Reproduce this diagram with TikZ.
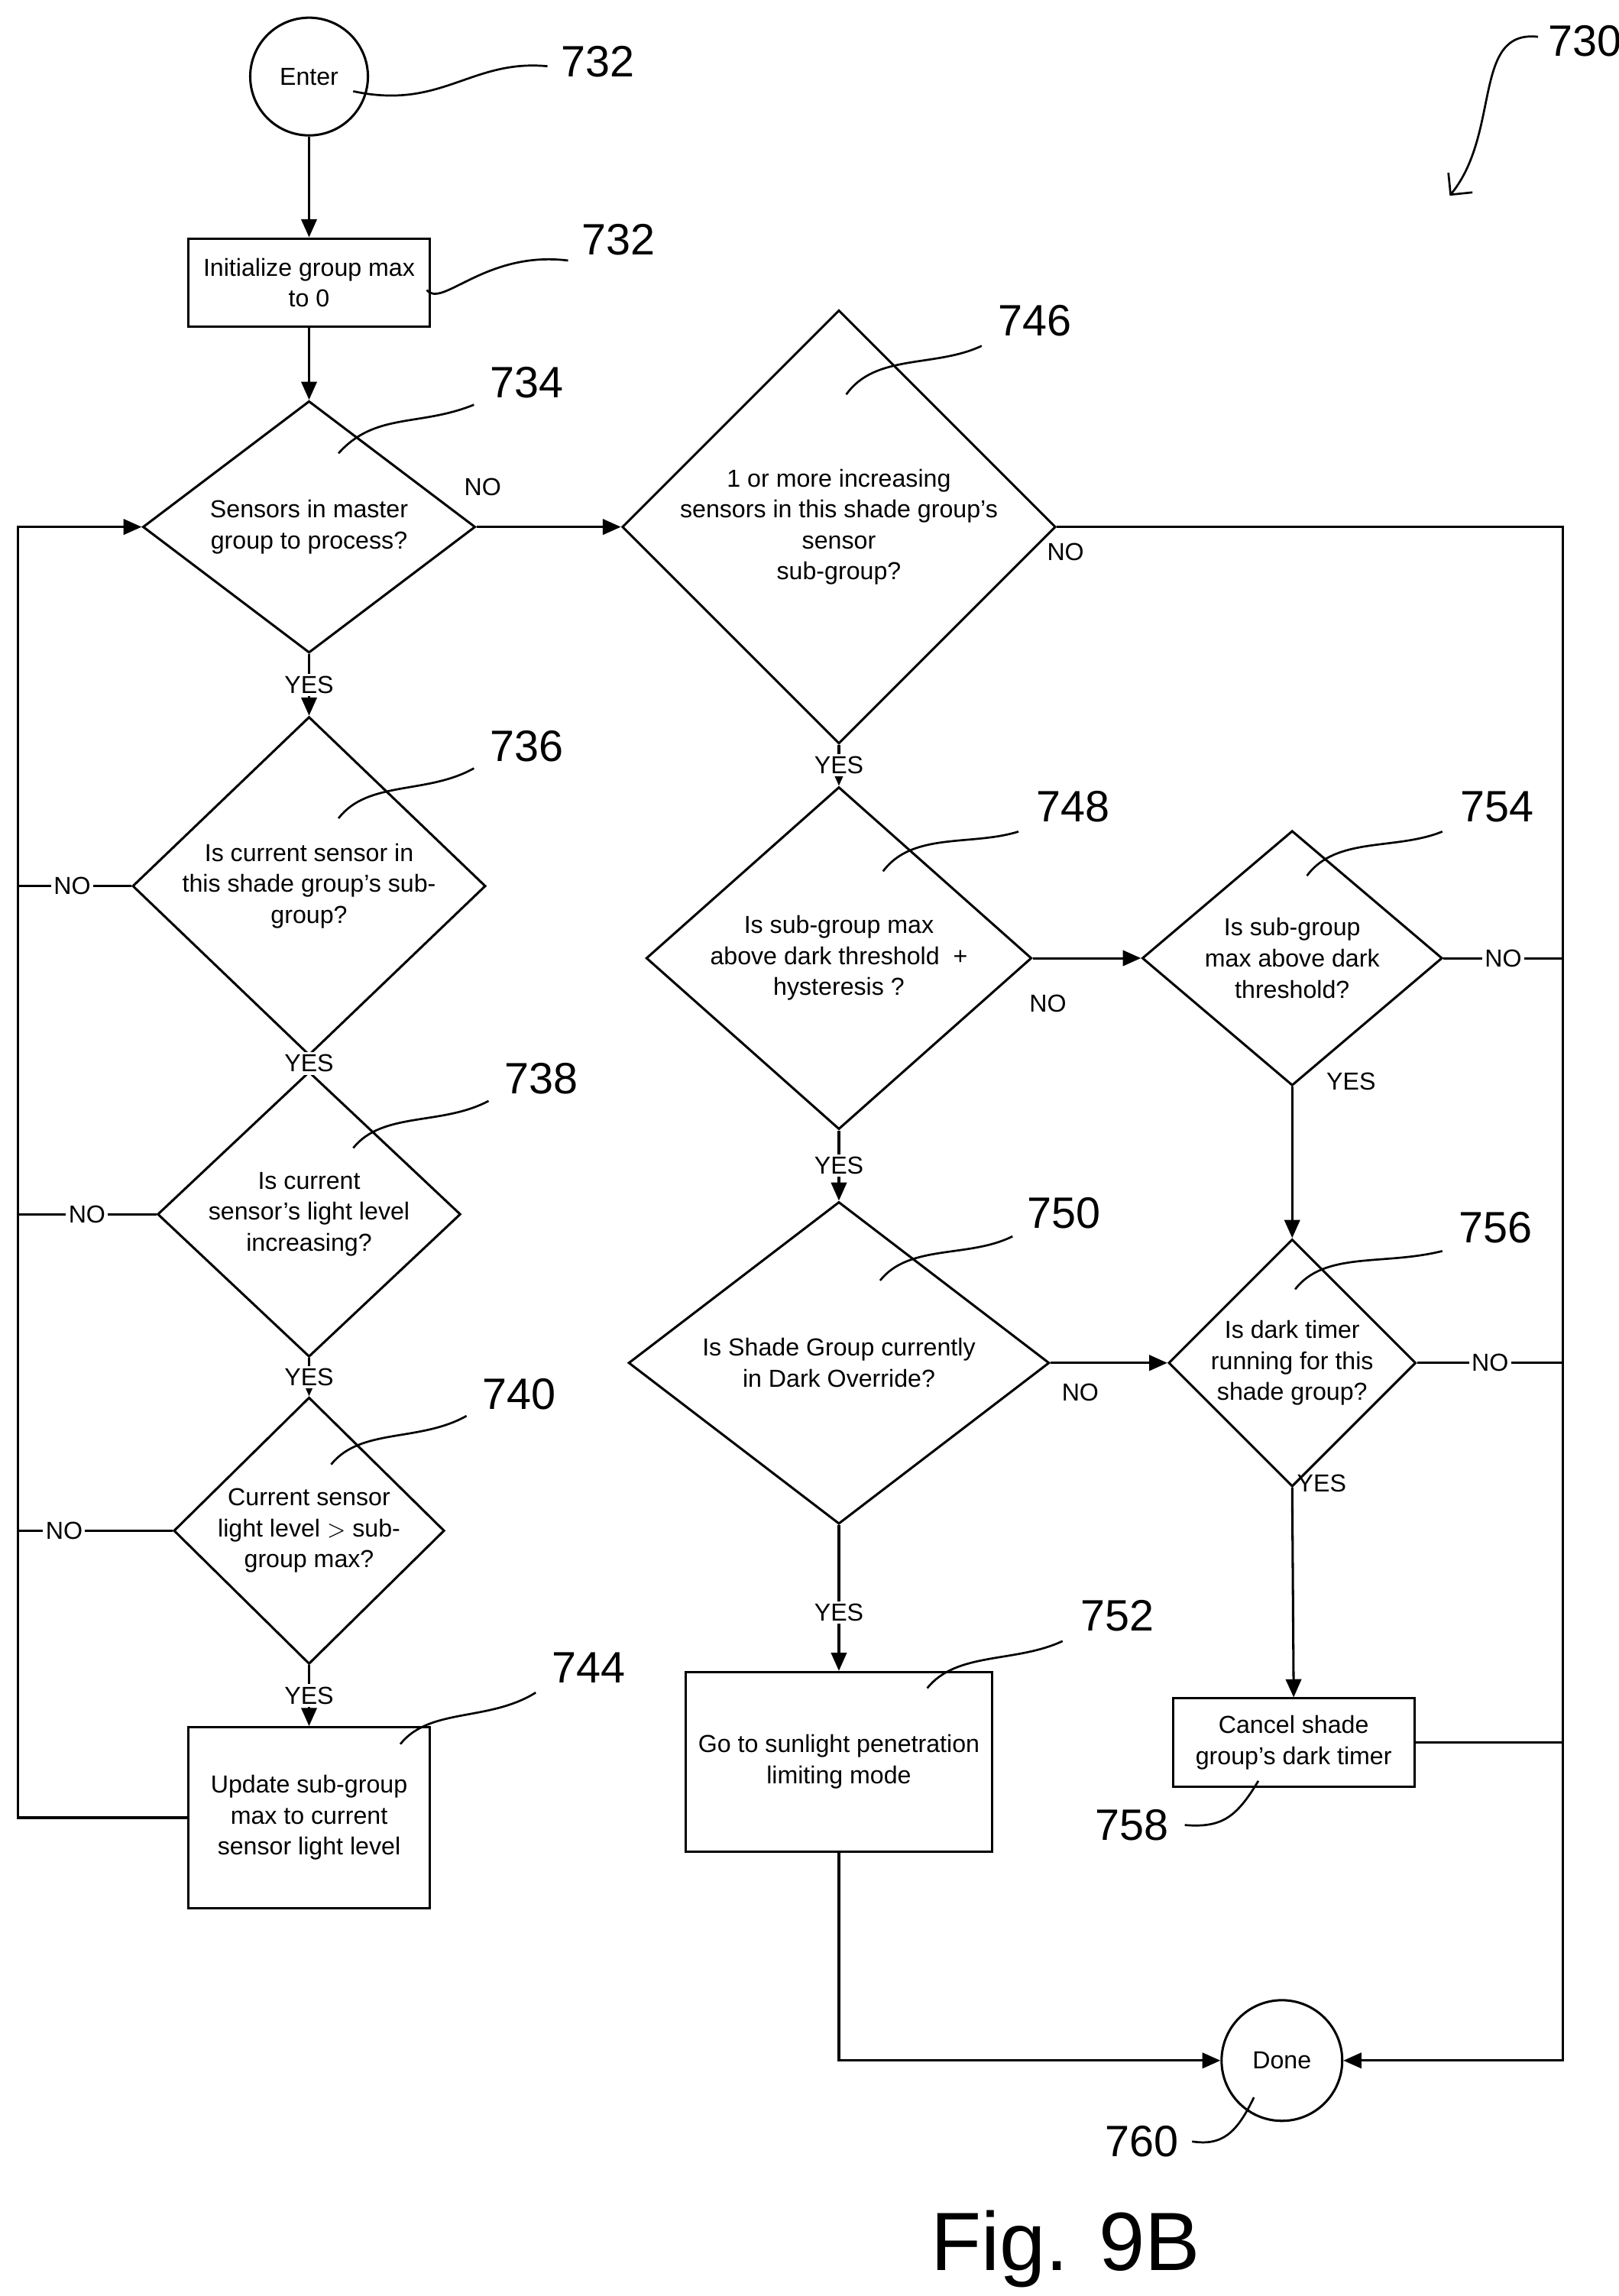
\documentclass[tikz,border=0pt]{standalone}
\usepackage{fontspec}
\setmainfont{Liberation Sans}
\usetikzlibrary{shapes.geometric,arrows.meta}
\begin{document}
\begin{tikzpicture}[x=0.02cm,y=-0.02cm,
  every node/.style={font=\fontsize{9.5}{12}\selectfont,align=center},
  line/.style={draw=black,line width=0.9pt},
  arr/.style={line,-{Triangle[length=7pt,width=6pt]}},
  dia/.style={diamond,draw,line width=0.9pt,inner sep=0pt},
  box/.style={rectangle,draw,line width=0.9pt,inner sep=0pt},
  circ/.style={circle,draw,line width=0.9pt,inner sep=0pt},
  lab/.style={font=\fontsize{9.5}{12}\selectfont,inner sep=1pt},
  lbl/.style={fill=white,font=\fontsize{9.5}{12}\selectfont,inner sep=1pt},
  ref/.style={font=\fontsize{17}{20}\selectfont},
  lead/.style={draw,line width=0.8pt}]
\useasboundingbox (0,0) rectangle (1100,1560);
\node[circ,minimum size=1.6cm] (enter) at (210,52) {Enter};
\node[box,minimum width=3.28cm,minimum height=1.2cm] (init) at (210,192) {Initialize group max\\to 0};
\node[dia,minimum width=4.52cm,minimum height=3.36cm] (d734) at (210,358) {Sensors in master\\group to process?};
\node[dia,minimum width=4.8cm,minimum height=3.12cm] (d736) at (210,602) {Is current sensor in\\this shade group's sub-\\group?};
\node[dia,minimum width=4.12cm,minimum height=3.08cm] (d738) at (210,825) {Is current\\sensor's light level\\increasing?};
\node[dia,minimum width=3.68cm,minimum height=2.84cm] (d740) at (210,1040) {Current sensor\\light level $>$ sub-\\group max?};
\node[box,minimum width=3.28cm,minimum height=2.46cm] (r744) at (210,1235) {Update sub-group\\max to current\\sensor light level};
\node[dia,minimum width=5.76cm,minimum height=4.6cm] (d746) at (570,358) {1 or more increasing\\sensors in this shade group's\\sensor\\sub-group?};
\node[dia,minimum width=5.24cm,minimum height=4.12cm] (d748) at (570,651) {Is sub-group max\\above dark threshold\ \ +\\hysteresis ?};
\node[dia,minimum width=5.72cm,minimum height=4.28cm] (d750) at (570,926) {Is Shade Group currently\\in Dark Override?};
\node[box,minimum width=4.16cm,minimum height=2.44cm] (r752) at (570,1197) {Go to sunlight penetration\\limiting mode};
\node[dia,minimum width=4.08cm,minimum height=3.08cm] (d754) at (878,651) {Is sub-group\\max above dark\\threshold?};
\node[dia,minimum width=3.32cm,minimum height=2.64cm] (d756) at (878,926) {Is dark timer\\running for this\\shade group?};
\node[box,minimum width=3.28cm,minimum height=1.2cm] (r758) at (879,1184) {Cancel shade\\group's dark timer};
\node[circ,minimum size=1.64cm] (done) at (871,1400) {Done};
\coordinate (L1) at (12,358); \coordinate (L2) at (12,1235);
\coordinate (R1) at (1062,358); \coordinate (R2) at (1062,1400);
\coordinate (B1) at (570,1400);
% left column
\draw[arr] (enter) -- (init);
\draw[arr] (init) -- (d734);
\draw[arr] (d734.south) -- node[lbl,pos=0.5]{YES} (d736.north);
\draw[arr] (d736.south) -- node[lbl]{YES} (d738.north);
\draw[arr] (d738.south) -- node[lbl]{YES} (d740.north);
\draw[arr] (d740.south) -- node[lbl,pos=0.5]{YES} (r744.north);
\draw[line] (d736.west) -- node[lbl,pos=0.52]{NO} (12,602);
\draw[line] (d738.west) -- node[lbl,pos=0.5]{NO} (12,825);
\draw[line] (d740.west) -- node[lbl,pos=0.7]{NO} (12,1040);
\draw[arr] (r744.west) -- (L2) -- (L1) -- (d734.west);
\draw[arr] (d734.east) -- (d746.west);
\node[lab] (no1) at (328,331) {NO};
% middle
\draw[arr] (d746.east) -- (R1) -- (R2) -- (done.east);
\node[lab] (no2) at (724,375) {NO};
\draw[arr] (d746.south) -- node[lbl]{YES} (d748.north);
\draw[arr] (d748.east) -- (d754.west);
\node[lab] (no3) at (712,682) {NO};
\draw[arr] (d748.south) -- node[lbl]{YES} (d750.north);
\draw[line] (d754.east) -- node[lbl,pos=0.5]{NO} (1062,651);
\draw[arr] (d754.south) -- (d756.north);
\node[lab] (y1) at (918,735) {YES};
\draw[arr] (d750.east) -- (d756.west);
\node[lab] (no4) at (734,946) {NO};
\draw[line] (d756.east) -- node[lbl,pos=0.5]{NO} (1062,926);
\draw[arr] (d756.south) -- (r758.north);
\node[lab] (y2) at (898,1008) {YES};
\draw[arr] (d750.south) -- node[lbl,pos=0.6]{YES} (r752.north);
\draw[line] (r758.east) -- (1062,1184);
\draw[arr] (r752.south) -- (B1) -- (done.west);
% reference numerals
\node[ref] (n732a) at (406,42) {732};
\draw[lead] (240,62) .. controls (300,75) and (320,40) .. (372,45);
\node[ref] (n732b) at (420,163) {732};
\draw[lead] (290,197) .. controls (300,210) and (330,170) .. (386,177);
\node[ref] (n734) at (358,260) {734};
\draw[lead] (230,308) .. controls (255,280) and (285,290) .. (322,275);
\node[ref] (n736) at (358,507) {736};
\draw[lead] (230,556) .. controls (250,530) and (290,540) .. (322,522);
\node[ref] (n738) at (368,733) {738};
\draw[lead] (240,780) .. controls (260,755) and (300,765) .. (332,748);
\node[ref] (n740) at (353,947) {740};
\draw[lead] (225,995) .. controls (245,970) and (285,980) .. (317,962);
\node[ref] (n744) at (400,1133) {744};
\draw[lead] (272,1185) .. controls (292,1160) and (332,1170) .. (364,1150);
\node[ref] (n746) at (703,218) {746};
\draw[lead] (575,268) .. controls (595,240) and (635,250) .. (667,235);
\node[ref] (n748) at (729,548) {748};
\draw[lead] (600,592) .. controls (620,565) and (660,575) .. (692,565);
\node[ref] (n754) at (1017,548) {754};
\draw[lead] (888,595) .. controls (908,568) and (948,578) .. (980,565);
\node[ref] (n750) at (723,824) {750};
\draw[lead] (598,870) .. controls (618,845) and (658,855) .. (688,840);
\node[ref] (n756) at (1016,834) {756};
\draw[lead] (880,876) .. controls (900,850) and (940,860) .. (980,850);
\node[ref] (n752) at (759,1098) {752};
\draw[lead] (630,1147) .. controls (650,1122) and (690,1130) .. (722,1115);
\node[ref] (n758) at (769,1240) {758};
\draw[lead] (855,1210) .. controls (840,1235) and (830,1242) .. (805,1240);
\node[ref] (n760) at (776,1455) {760};
\draw[lead] (852,1425) .. controls (840,1450) and (830,1458) .. (810,1455);
\node[ref] (n730) at (1077,28) {730};
\draw[lead,-{Straight Barb[length=6pt]}] (1045,25) .. controls (1000,20) and (1020,90) .. (985,133);
\node[font=\fontsize{32}{36}\selectfont] (fig) at (724,1528) {Fig. 9B};
\end{tikzpicture}
\end{document}
